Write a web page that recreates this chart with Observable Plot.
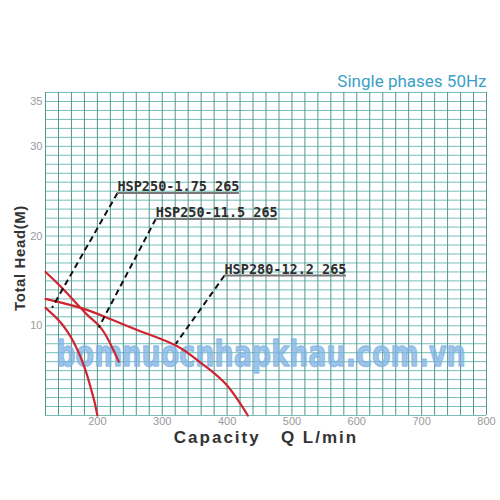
<!DOCTYPE html>
<html>
<head>
<meta charset="utf-8">
<script src="https://cdn.jsdelivr.net/npm/d3@7"></script>
<script src="https://cdn.jsdelivr.net/npm/@observablehq/plot@0.6"></script>
<style>
  html, body { margin: 0; padding: 0; background: #fff; }
  #chart { width: 500px; height: 500px; }
</style>
</head>
<body>
<div id="chart"></div>
<script>
// ---- data ----
const xTicks = [200, 300, 400, 500, 600, 700, 800];
const yTicks = [10, 20, 30, 35];

const q1 = [120, 143, 164, 181, 190, 195, 200];
const h1 = [12.0, 10.4, 8.1, 5.2, 3.0, 1.7, 0];

const q2 = [120, 143, 174, 189, 205, 220, 233];
const h2 = [16.0, 14.4, 12.0, 10.9, 9.8, 8.0, 6.0];

const q3 = [120, 174, 215, 266, 321, 359, 398, 432];
const h3 = [13.0, 12.0, 10.9, 9.4, 7.8, 5.9, 3.5, 0];

const labelNames = ["HSP250-1.75 265", "HSP250-11.5 265", "HSP280-12.2 265"];
const labelQ = [231, 290, 396];
const labelH = [24.8, 21.9, 15.6];
const pointQ = [130, 202, 321];
const pointH = [12.0, 9.8, 8.0];

const titleText = "Single phases 50Hz";
const xLabel = "Capacity   Q L/min";
const yLabel = "Total Head(M)";
const watermark = "bomnuocnhapkhau.com.vn";

// ---- build tables ----
const curves = [
  ...q1.map((q, i) => ({ series: 0, q, h: h1[i] })),
  ...q2.map((q, i) => ({ series: 1, q, h: h2[i] })),
  ...q3.map((q, i) => ({ series: 2, q, h: h3[i] }))
];
const labels = labelNames.map((name, i) => ({
  name, q: labelQ[i], h: labelH[i], pq: pointQ[i], ph: pointH[i]
}));

const gridXv = d3.range(120, 801, 20);
const gridYv = d3.range(0, 37, 1);

const chart = Plot.plot({
  width: 500,
  height: 500,
  marginLeft: 45,
  marginRight: 14,
  marginTop: 92,
  marginBottom: 85,
  style: { background: "#fff", fontFamily: "Liberation Sans, Arial, sans-serif" },
  x: { domain: [120, 800], label: null },
  y: { domain: [0, 36], label: null },
  marks: [
    Plot.ruleY(gridYv, { stroke: "#74bfb6", strokeWidth: 1 }),
    Plot.ruleX(gridXv, { stroke: "#55958d", strokeWidth: 1 }),
    Plot.text([watermark], {
      frameAnchor: "bottom", dy: -61, dx: -5, lineAnchor: "middle", textAnchor: "middle",
      text: d => d, fontFamily: "DejaVu Sans", fontWeight: "bold",
      fontSize: 27, fill: "#7fb3e3", fillOpacity: 0.75,
      stroke: "#7fb3e3", strokeOpacity: 0.75, strokeWidth: 1.2
    }),
    Plot.axisX({ ticks: xTicks, tickSize: 0, tickPadding: 2, fontSize: 11, fill: "#9a9a9a", label: null }),
    Plot.axisY({ ticks: yTicks, tickSize: 0, tickPadding: 3, fontSize: 11, fill: "#9a9a9a", label: null }),
    Plot.line(curves, { x: "q", y: "h", z: "series", stroke: "#cf2530", strokeWidth: 2.2, curve: "natural" }),
    Plot.link(labels, { x1: "q", y1: "h", x2: "pq", y2: "ph", stroke: "#111", strokeWidth: 2, strokeDasharray: "6,4" }),
    Plot.text(labels, {
      x: "q", y: "h", text: "name", textAnchor: "start", lineAnchor: "bottom", dy: -2,
      fontFamily: "DejaVu Sans Mono", fontWeight: "bold", fontSize: 13.5, fill: "#2e2e2e"
    }),
    Plot.text([titleText], {
      frameAnchor: "top-right", dy: -6, lineAnchor: "bottom", text: d => d,
      fontFamily: "Roboto", fontSize: 17, fill: "#3aa0c6"
    }),
    Plot.text([xLabel], {
      frameAnchor: "bottom", dy: 27, lineAnchor: "bottom", textAnchor: "middle", text: d => d,
      fontFamily: "Liberation Sans", fontWeight: "bold", fontSize: 17, fill: "#333"
    }),
    Plot.text([yLabel], {
      frameAnchor: "left", dx: -25, dy: 4, rotate: -90, lineAnchor: "middle", textAnchor: "middle", text: d => d,
      fontFamily: "Liberation Sans", fontWeight: "bold", fontSize: 15, fill: "#333"
    })
  ]
});

document.getElementById("chart").appendChild(chart);

// post-processing: letter spacing, watermark shape, underlines
const svg = d3.select(chart);
const xs = chart.scale("x"), ys = chart.scale("y");
svg.selectAll("text").each(function () {
  const t = this.textContent;
  const sel = d3.select(this);
  if (t === xLabel) {
    sel.style("letter-spacing", "2px").style("white-space", "pre");
  } else if (t === watermark) {
    const tr = sel.attr("transform") || "";
    sel.attr("transform", tr + " scale(1,1.3)");
  } else if (t === yLabel) {
    sel.style("letter-spacing", "0.6px");
  }
});
labels.forEach(l => {
  const el = svg.selectAll("text").filter(function () { return this.textContent === l.name; }).node();
  if (!el) return;
  const w = el.getComputedTextLength();
  const x0 = xs.apply(l.q), y0 = ys.apply(l.h);
  svg.append("line")
    .attr("x1", x0).attr("x2", x0 + w)
    .attr("y1", y0 + 0.5).attr("y2", y0 + 0.5)
    .attr("stroke", "#777").attr("stroke-width", 2);
});
</script>
</body>
</html>
